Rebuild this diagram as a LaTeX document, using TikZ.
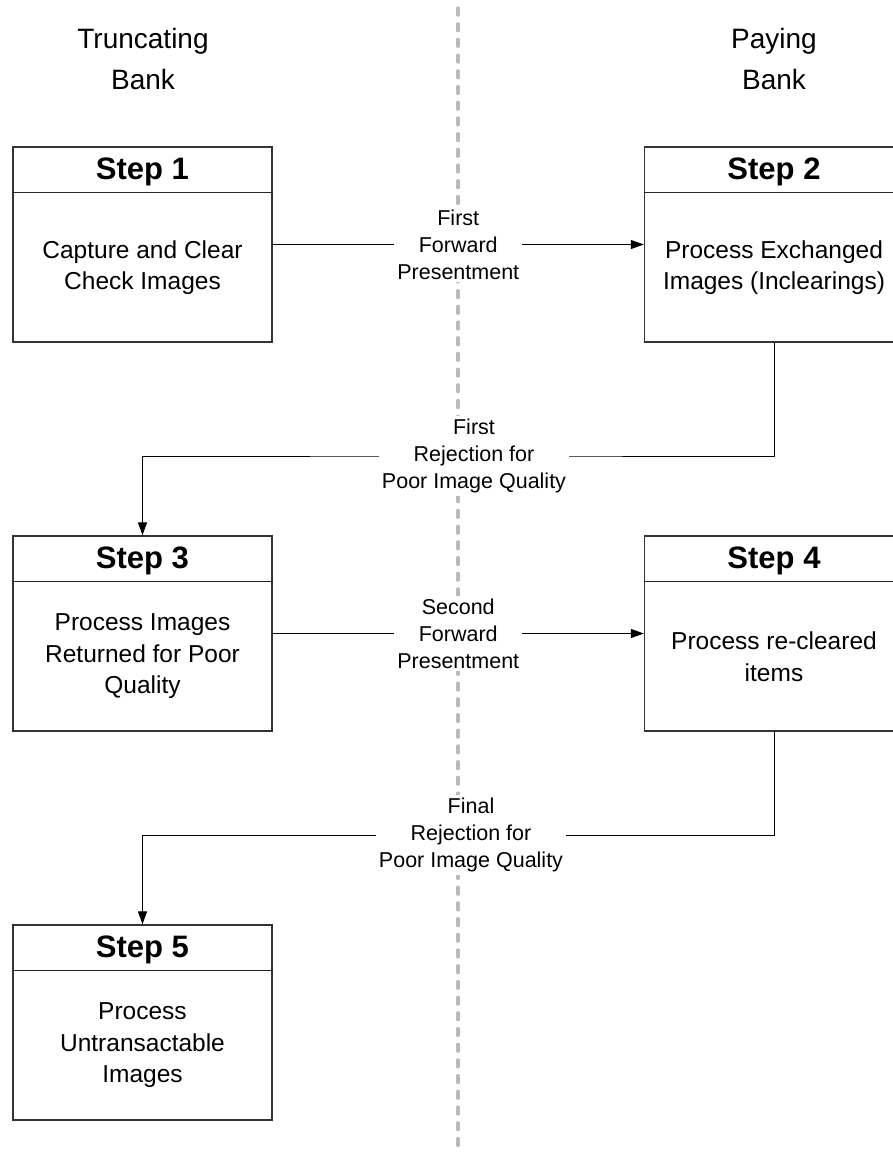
\documentclass[tikz,border=0pt]{standalone}
\usepackage{fontspec}
\setmainfont{Liberation Sans}
\usetikzlibrary{arrows.meta,calc}

\tikzset{
  x=1pt, y=-1pt,
  stepbox/.style={draw=black!80, line width=1.4pt, rectangle,
    minimum width=259pt, minimum height=195pt, inner sep=0pt},
  headrule/.style={draw=black!85, line width=1.3pt},
  headtxt/.style={font=\fontsize{31}{37}\selectfont\bfseries, inner sep=0pt},
  bodytxt/.style={font=\fontsize{24.5}{31.5}\selectfont, align=center, inner sep=0pt},
  titletxt/.style={font=\fontsize{28}{41}\selectfont, align=center, inner sep=0pt},
  lab/.style={font=\fontsize{21.5}{27}\selectfont, align=center, fill=white, inner sep=3pt},
  conn/.style={draw=black, line width=1pt, -{Triangle[length=13pt,width=9pt]}},
  lane/.style={draw=black!27, line width=3.2pt, line cap=round, dash pattern=on 7pt off 8.7pt},
}

\begin{document}
\begin{tikzpicture}
\useasboundingbox (0,0) rectangle (893,1152);
\clip (0,0) rectangle (893,1152);
\fill[white] (0,0) rectangle (893,1152);

% lane separator between the two banks
\coordinate (laneTop) at (458,8);
\coordinate (laneBot) at (458,1160);
\draw[lane] (laneTop) -- (laneBot);

% lane titles
\node[titletxt] (tbank) at (143,59) {Truncating\\Bank};
\node[titletxt] (pbank) at (774,59) {Paying\\Bank};

% step boxes
\node[stepbox] (s1) at (142.5,244.5) {};
\node[stepbox] (s2) at (774,244.5) {};
\node[stepbox] (s3) at (142.5,633.5) {};
\node[stepbox] (s4) at (774,633.5) {};
\node[stepbox] (s5) at (142.5,1022.5) {};

% header rules
\draw[headrule] ($(s1.north west)+(0,46)$) -- ($(s1.north east)+(0,46)$);
\draw[headrule] ($(s2.north west)+(0,46)$) -- ($(s2.north east)+(0,46)$);
\draw[headrule] ($(s3.north west)+(0,46)$) -- ($(s3.north east)+(0,46)$);
\draw[headrule] ($(s4.north west)+(0,46)$) -- ($(s4.north east)+(0,46)$);
\draw[headrule] ($(s5.north west)+(0,46)$) -- ($(s5.north east)+(0,46)$);

% headers
\node[headtxt] (h1) at ($(s1.north)+(0,25.5)$) {Step 1};
\node[headtxt] (h2) at ($(s2.north)+(0,25.5)$) {Step 2};
\node[headtxt] (h3) at ($(s3.north)+(0,25.5)$) {Step 3};
\node[headtxt] (h4) at ($(s4.north)+(0,25.5)$) {Step 4};
\node[headtxt] (h5) at ($(s5.north)+(0,25.5)$) {Step 5};

% bodies
\node[bodytxt] (b1) at ($(s1.center)+(0,23)$) {Capture and Clear\\Check Images};
\node[bodytxt] (b2) at ($(s2.center)+(0,23)$) {Process Exchanged\\Images (Inclearings)};
\node[bodytxt] (b3) at ($(s3.center)+(0,23)$) {Process Images\\Returned for Poor\\Quality};
\node[bodytxt] (b4) at ($(s4.center)+(0,23)$) {Process re-cleared\\items};
\node[bodytxt] (b5) at ($(s5.center)+(0,23)$) {Process\\Untransactable\\Images};

% connectors
\coordinate (k1) at (474,456);
\coordinate (k2) at (471,835);
\draw[conn] (s1) -- (s2);
\draw[conn] (s2.south) |- (k1) -| (s3.north);
\draw[conn] (s3) -- (s4);
\draw[conn] (s4.south) |- (k2) -| (s5.north);

% connector labels
\node[lab] (l1) at ($(s1.east)!0.5!(s2.west)$) {First\\Forward\\Presentment};
\node[lab] (l2) at (k1) {First\\Rejection for\\Poor Image Quality};
\node[lab] (l3) at ($(s3.east)!0.5!(s4.west)$) {Second\\Forward\\Presentment};
\node[lab] (l4) at (k2) {Final\\Rejection for\\Poor Image Quality};
\end{tikzpicture}
\end{document}
